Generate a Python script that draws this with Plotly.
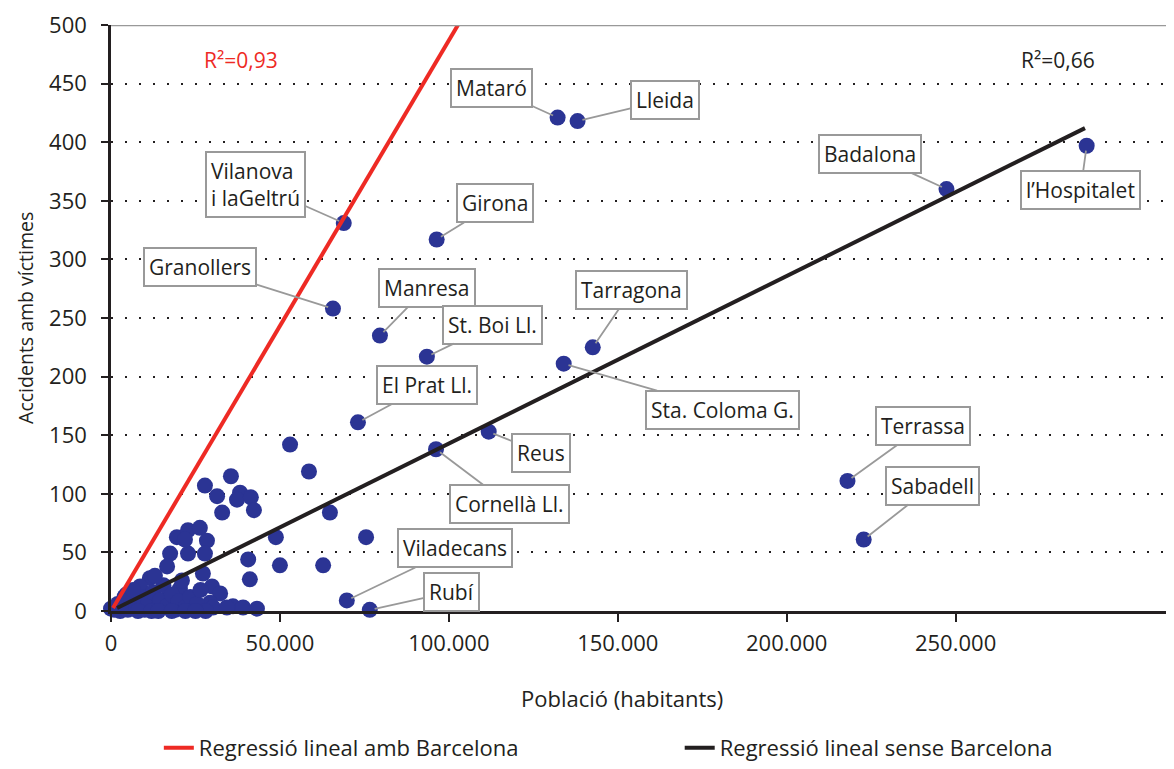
import plotly.graph_objects as go

# municipalities with a callout label
names = ["Mataró", "Lleida", "Vilanova<br>i laGeltrú", "Girona", "Granollers", "Manresa",
         "St. Boi Ll.", "Tarragona", "Sta. Coloma G.", "El Prat Ll.", "Reus", "Cornellà Ll.",
         "Viladecans", "Rubí", "Badalona", "l’Hospitalet", "Terrassa", "Sabadell"]
named_pop = [132200, 138100, 68900, 96400, 65700, 79600, 93500, 142600, 134000,
             73100, 111800, 96200, 69800, 76600, 247300, 288800, 218000, 222800]
named_acc = [421, 418, 331, 317, 258, 235, 217, 225, 211, 161, 153, 138, 9, 1, 360, 397, 111, 61]

# the rest of the municipalities (unlabelled)
other_pop = [53000, 58600, 27800, 35500, 31400, 38200, 37300, 41400, 32900, 42300, 64800,
             48800, 75500, 19500, 22800, 26300, 28400, 22800, 27800, 17500, 40600, 50000,
             62800, 41100, 16600, 11500, 8600, 27200, 29900, 32300, 29300, 36100, 39100,
             43200, 0, 21900, 20400, 16600, 30200, 34300, 2700,
             1000, 2000, 3000, 4000, 5000, 6000, 7500, 9000, 10000, 11000, 12500, 13500,
             14500, 15500, 16500, 18000, 19000, 20000, 21000, 22000, 23500, 24500, 25500,
             26500, 28000, 8000, 12000, 14000, 18000, 22000, 25000, 4500, 6500, 13000]
other_acc = [142, 119, 107, 115, 98, 101, 95, 97, 84, 86, 84,
             63, 63, 63, 69, 71, 60, 49, 49, 49, 44, 39,
             39, 27, 38, 28, 21, 32, 21, 15, 7, 4, 3,
             2, 2, 61, 19, 10, 3, 3, 0,
             1, 6, 4, 12, 1, 9, 3, 12, 1, 6, 16, 2,
             9, 22, 4, 14, 1, 8, 26, 3, 12, 1, 6,
             18, 0, 0, 0, 0, 0, 0, 0, 14, 18, 30]

# regression lines (end points)
reg_amb_x = [600, 102700]
reg_amb_y = [2.5, 500]
reg_sense_x = [1800, 288300]
reg_sense_y = [2.5, 412]

# label offsets in pixels (box centre relative to the point)
label_dx = [-66, 87, -88, 58, -133, 47, 66, 39, 159, 69, 52, 73, 108, 82, -76, -6, 76, 69]
label_dy = [-30, -21, -39, -36, -42, -48, -32, -57, 46, -37, 21, 55, -52, -18, -35, 44, -55, -54]

font = "Open Sans"
txt = "#231f20"
blue = "#2b3494"

fig = go.Figure()

fig.add_trace(go.Scatter(x=other_pop + named_pop, y=other_acc + named_acc, mode="markers",
                         marker=dict(color=blue, size=16, line=dict(width=0)),
                         cliponaxis=False, showlegend=False, hoverinfo="x+y"))
fig.add_trace(go.Scatter(x=reg_amb_x, y=reg_amb_y, mode="lines", name="Regressió lineal amb Barcelona",
                         line=dict(color="#ee2a24", width=4), legend="legend"))
fig.add_trace(go.Scatter(x=reg_sense_x, y=reg_sense_y, mode="lines", name="Regressió lineal sense Barcelona",
                         line=dict(color="#231f20", width=4), legend="legend2"))

for n, xv, yv, dx, dy in zip(names, named_pop, named_acc, label_dx, label_dy):
    fig.add_annotation(x=xv, y=yv, text=n, ax=dx, ay=dy, showarrow=True, arrowhead=0,
                       arrowcolor="#999999", arrowwidth=1.8, standoff=5,
                       bgcolor="white", bordercolor="#999999", borderwidth=2, borderpad=4,
                       align="left", font=dict(family=font, size=21, color=txt))

fig.add_annotation(x=0.122, y=0.94, xref="paper", yref="paper", showarrow=False,
                   xanchor="center", yanchor="middle",
                   text="R²=0,93", font=dict(family=font, size=21, color="#ee2a24"))
fig.add_annotation(x=0.891, y=0.94, xref="paper", yref="paper", showarrow=False,
                   xanchor="center", yanchor="middle",
                   text="R²=0,66", font=dict(family=font, size=21, color=txt))

# axis titles
fig.add_annotation(x=-0.081, y=0.5, xref="paper", yref="paper", showarrow=False, textangle=-90,
                   xanchor="center", yanchor="middle",
                   text="Accidents amb víctimes", font=dict(family=font, size=19.5, color=txt))
fig.add_annotation(x=0.481, y=-0.149, xref="paper", yref="paper", showarrow=False,
                   xanchor="center", yanchor="middle",
                   text="Població (habitants)", font=dict(family=font, size=22, color=txt))

# grey top border
fig.add_shape(type="line", xref="paper", yref="y", x0=0, x1=1, y0=500, y1=500,
              line=dict(color="#999999", width=2.5))

fig.update_xaxes(range=[0, 314650], tickvals=[0, 50000, 100000, 150000, 200000, 250000],
                 tickformat=",d", showgrid=False, zeroline=False, showline=True, automargin=False,
                 linecolor="#231f20", linewidth=2.5, ticks="outside", ticklen=8, tickwidth=2,
                 tickcolor="#231f20", ticklabelstandoff=3,
                 tickfont=dict(family=font, size=22, color=txt))
fig.update_yaxes(range=[0, 500], dtick=50, showgrid=True, gridcolor="#231f20", gridwidth=2,
                 griddash="2px,12px", zeroline=False, showline=True, linecolor="#231f20",
                 automargin=False,
                 linewidth=2.5, ticks="outside", ticklen=7, tickwidth=2, tickcolor="#231f20",
                 ticklabelstandoff=10, tickfont=dict(family=font, size=22, color=txt))

# the page adds an 8px body margin, so the figure is sized to fit inside the window
legend_style = dict(orientation="h", yanchor="middle", y=-0.234, xanchor="left",
                    font=dict(family=font, size=22, color=txt), bgcolor="rgba(0,0,0,0)")
fig.update_layout(
    width=1166, height=761,
    margin=dict(l=103, r=0, t=17, b=155),
    plot_bgcolor="white", paper_bgcolor="white",
    separators=",.",
    legend=dict(x=0.045, **legend_style),
    legend2=dict(x=0.535, **legend_style),
)

fig.write_html("out.html")
